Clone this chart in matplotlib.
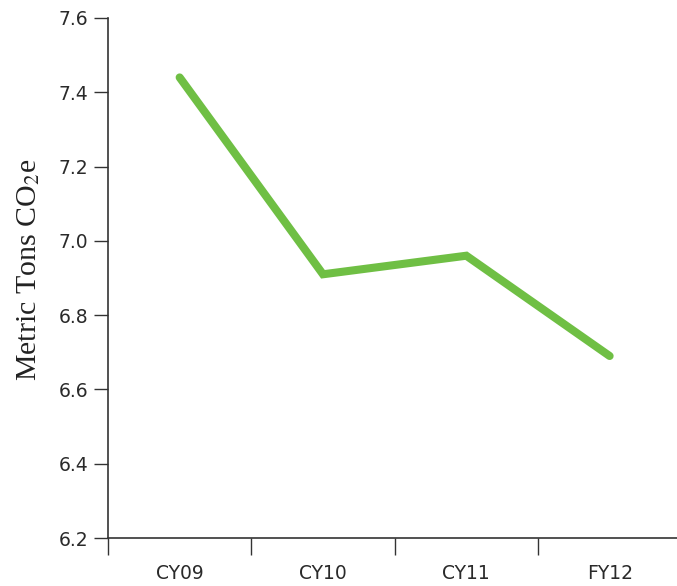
import matplotlib
matplotlib.use("Agg")
import matplotlib.pyplot as plt

# Data
years = ["CY09", "CY10", "CY11", "FY12"]
emissions = [7.44, 6.91, 6.96, 6.69]
y_ticks = [6.2, 6.4, 6.6, 6.8, 7.0, 7.2, 7.4, 7.6]

plt.rcParams["mathtext.fontset"] = "stix"

fig = plt.figure(figsize=(6.77, 5.86), dpi=100)
ax = fig.add_axes([0.1595, 0.0819, 0.8405, 0.8874])

x = list(range(len(years)))
ax.plot(x, emissions, color="#6fbf44", linewidth=5.8,
        solid_capstyle="round", solid_joinstyle="miter")

ax.set_ylim(6.2, 7.6)
ax.set_yticks(y_ticks)
ax.set_yticklabels([f"{v:.1f}" for v in y_ticks])
ax.set_xlim(-0.5, 3.47)

# category ticks sit between categories, labels centered
ax.set_xticks([-0.5, 0.5, 1.5, 2.5])
ax.set_xticklabels([])
ax.set_xticks(x, minor=True)
ax.set_xticklabels(years, minor=True)
ax.tick_params(axis="x", which="minor", length=0, pad=19)
ax.tick_params(axis="x", which="major", length=12, width=1, direction="out", color="#333333")
ax.tick_params(axis="y", length=10, width=1, direction="out", color="#333333", pad=4)

for lab in ax.get_xticklabels(minor=True) + ax.get_yticklabels():
    lab.set_fontfamily("DejaVu Sans")
    lab.set_fontsize(13.5)
    lab.set_color("#2a2a2a")

for side in ["top", "right"]:
    ax.spines[side].set_visible(False)
for side in ["left", "bottom"]:
    ax.spines[side].set_color("#333333")
    ax.spines[side].set_linewidth(1.2)

ax.set_ylabel(r"Metric Tons CO$_2$e", fontfamily="Liberation Serif",
              fontsize=21.5, color="#222222")
ax.yaxis.set_label_coords(-0.115, 0.515)

fig.savefig("out.png", dpi=100)
